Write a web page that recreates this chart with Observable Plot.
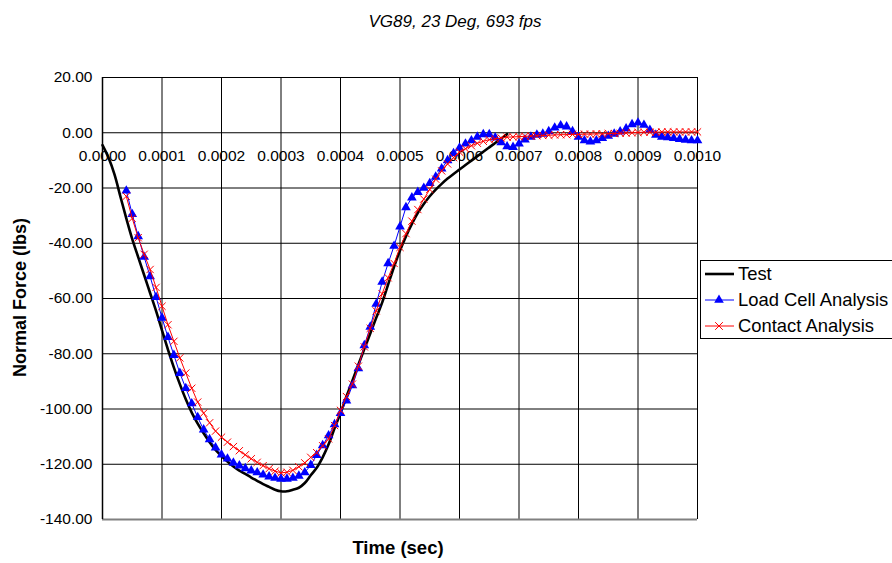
<!DOCTYPE html>
<html><head><meta charset="utf-8">
<script src="https://cdn.jsdelivr.net/npm/d3@7"></script>
<script src="https://cdn.jsdelivr.net/npm/@observablehq/plot@0.6"></script>
<style>
body{margin:0;background:#fff;font-family:"Liberation Sans",Arial,sans-serif;color:#000;}
#wrap{position:relative;width:892px;height:563px;overflow:hidden;}
#chart{position:absolute;left:0;top:0;}
.title{position:absolute;left:0;width:910px;top:12px;text-align:center;font-style:italic;font-size:17px;}
.xlab{position:absolute;left:298px;width:200px;top:537px;text-align:center;font-weight:bold;font-size:18.5px;}
.ylab{position:absolute;left:-80px;width:200px;top:287px;text-align:center;font-weight:bold;font-size:18px;transform:rotate(-90deg);}
.legend{position:absolute;left:700px;top:260px;width:220px;height:77px;border:1px solid #000;background:#fff;}
.legend .row{position:absolute;left:4px;height:20px;display:flex;align-items:center;font-size:18.4px;white-space:nowrap;}
.legend svg{margin-right:4px;}
</style></head><body>
<div id="wrap">
<div id="chart"></div>
<div class="title">VG89, 23 Deg, 693 fps</div>
<div class="xlab">Time (sec)</div>
<div class="ylab">Normal Force (lbs)</div>
<div class="legend" id="legend"></div>
</div>
<script>
// Series names
const seriesNames = ["Test", "Load Cell Analysis", "Contact Analysis"];

// Test curve (seconds, lbs)
const testTime = [0,0.00001,0.00002,0.00003,0.00004,0.00005,0.00006,0.00007,0.00008,0.00009,
0.0001,0.00011,0.00012,0.00013,0.00014,0.00015,0.00016,0.00017,0.00018,0.00019,
0.0002,0.00021,0.00022,0.00023,0.00024,0.00025,0.00026,0.00027,0.00028,0.00029,
0.0003,0.00031,0.00032,0.00033,0.00034,0.00035,0.00036,0.00037,0.00038,0.00039,
0.0004,0.00041,0.00042,0.00043,0.00044,0.00045,0.00046,0.00047,0.00048,0.00049,
0.0005,0.00051,0.00052,0.00053,0.00054,0.00055,0.00056,0.00057,0.00058,0.00059,
0.0006,0.00061,0.00062,0.00063,0.00064,0.00065,0.00066,0.00067,0.00068];
const testForce = [-4.5,-9,-15,-23,-31,-38.5,-45,-51.5,-58,-64.5,
-71.5,-78.5,-85,-91,-96.5,-101.3,-105.3,-108.8,-112,-114.8,
-117,-119,-120.8,-122.3,-123.5,-124.8,-126,-127.2,-128.2,-129.2,
-129.8,-129.8,-129.2,-128.5,-126.8,-124,-121.3,-117.5,-112.8,-107,
-101.5,-95.5,-89.8,-84,-78.3,-72.7,-67,-61.5,-55,-48.5,
-42.6,-37.5,-33,-29,-25.8,-23,-20.6,-18.5,-16.6,-14.9,
-13.3,-11.7,-10.1,-8.5,-6.9,-5.3,-3.7,-2.1,-0.5];

// Analysis sample times (seconds)
const sampleTime = [0.00004,0.00005,0.00006,0.00007,0.00008,0.00009,
0.0001,0.00011,0.00012,0.00013,0.00014,0.00015,0.00016,0.00017,0.00018,0.00019,
0.0002,0.00021,0.00022,0.00023,0.00024,0.00025,0.00026,0.00027,0.00028,0.00029,
0.0003,0.00031,0.00032,0.00033,0.00034,0.00035,0.00036,0.00037,0.00038,0.00039,
0.0004,0.00041,0.00042,0.00043,0.00044,0.00045,0.00046,0.00047,0.00048,0.00049,
0.0005,0.00051,0.00052,0.00053,0.00054,0.00055,0.00056,0.00057,0.00058,0.00059,
0.0006,0.00061,0.00062,0.00063,0.00064,0.00065,0.00066,0.00067,0.00068,0.00069,
0.0007,0.00071,0.00072,0.00073,0.00074,0.00075,0.00076,0.00077,0.00078,0.00079,
0.0008,0.00081,0.00082,0.00083,0.00084,0.00085,0.00086,0.00087,0.00088,0.00089,
0.0009,0.00091,0.00092,0.00093,0.00094,0.00095,0.00096,0.00097,0.00098,0.00099,0.001];

const loadCellForce = [-21,-29.5,-37.5,-45,-52,-59.5,
-67,-74,-80.5,-87,-92.5,-98,-103,-107.5,-111,-114,
-116.5,-118,-119.5,-120.5,-121.5,-122.3,-123,-123.8,-124.5,-125,
-125.3,-125.3,-125,-124.2,-123,-120.3,-116.7,-113.2,-109.6,-105.6,
-101.5,-97,-91.5,-85.3,-77,-70.3,-62,-54,-47.3,-41,
-34,-27,-23.5,-21.5,-20,-18.3,-16,-13,-10,-7.5,
-5.5,-4,-2.8,-1.5,-0.6,-0.6,-1.8,-3.5,-5,-5.2,
-4,-2.5,-1.5,-0.8,-0.4,0.5,1.8,2.6,2.2,0.5,
-1.5,-2.8,-3.2,-2.8,-2,-1.2,-0.4,0.4,1.5,3,
3.6,2.8,1,-0.8,-1.5,-1.7,-2,-2.3,-2.6,-2.8,-2.8];

const contactForce = [-23,-31,-38,-44,-49.5,-56,
-62.8,-69.5,-75.5,-81.5,-87,-92.5,-97.5,-101.5,-105,-108,
-110.2,-112,-113.6,-115.1,-116.6,-118,-119.3,-120.5,-121.6,-122.5,
-123.1,-122.9,-122.2,-120.9,-119.5,-117.5,-115.8,-113.3,-110.8,-106,
-100.5,-95.5,-91,-84.5,-77.5,-70.8,-64.5,-58.3,-52.5,-47.3,
-41.5,-36.5,-32,-27.8,-24,-20.5,-16.8,-13.8,-11.3,-9,
-7,-5.8,-4.7,-3.8,-3.1,-2.5,-2.2,-1.9,-1.6,-1.5,
-1.4,-1.3,-1.2,-1.1,-1,-0.9,-0.8,-0.7,-0.7,-0.6,
-0.6,-0.5,-0.5,-0.4,-0.4,-0.3,-0.3,-0.2,-0.1,0,
0.1,0.2,0.2,0.2,0.3,0.3,0.3,0.3,0.3,0.3,0.3];

// Ticks
const xTicks = [0,0.0001,0.0002,0.0003,0.0004,0.0005,0.0006,0.0007,0.0008,0.0009,0.001];
const yTicks = [20,0,-20,-40,-60,-80,-100,-120,-140];

const test = testTime.map((t,i)=>({t, f: testForce[i]}));
const load = sampleTime.map((t,i)=>({t, f: loadCellForce[i]}));
const contact = sampleTime.map((t,i)=>({t, f: contactForce[i]}));

const chart = Plot.plot({
  width: 892, height: 563,
  marginLeft: 102, marginRight: 195, marginTop: 77, marginBottom: 44,
  style: {fontFamily: "'Liberation Sans', Arial, sans-serif", fontSize: "15.5px", color: "#000", background: "#fff", overflow: "visible"},
  x: {domain: [0, 0.001], axis: null},
  y: {domain: [-140, 20], ticks: yTicks, tickFormat: d => d.toFixed(2), tickSize: 0, tickPadding: 10, label: null},
  marks: [
    Plot.ruleX(xTicks, {x: d => d, stroke: "#000", strokeWidth: 1}),
    Plot.ruleY(yTicks.slice(0, -1), {y: d => d, stroke: "#000", strokeWidth: 1}),
    Plot.ruleY([yTicks[yTicks.length - 1]], {y: d => d, stroke: "#808080", strokeWidth: 2}),
    Plot.ruleX([xTicks[0]], {x: d => d, stroke: "#000", strokeWidth: 1.5}),
    Plot.text(xTicks, {x: d => d, y: () => 0, text: d => d.toFixed(4), dy: 23, fontSize: 15.5, fill: "#000"}),
    Plot.line(test, {x: "t", y: "f", stroke: "#000", strokeWidth: 2.6, curve: "catmull-rom"}),
    Plot.line(load, {x: "t", y: "f", stroke: "#0000ff", strokeWidth: 1}),
    Plot.dot(load, {x: "t", y: "f", symbol: "triangle", fill: "#0000ff", stroke: "none", r: 3.6}),
    Plot.line(contact, {x: "t", y: "f", stroke: "#ff0000", strokeWidth: 1}),
    Plot.dot(contact, {x: "t", y: "f", symbol: "times", stroke: "#ff0000", fill: "none", strokeWidth: 1, r: 3.4})
  ]
});
document.getElementById("chart").appendChild(chart);

// Legend
const legendStyles = [
  {stroke: "#000", width: 2.6, marker: null},
  {stroke: "#0000ff", width: 1, marker: "triangle"},
  {stroke: "#ff0000", width: 1, marker: "times"}
];
const legend = document.getElementById("legend");
const rowTops = [3, 29, 55];
seriesNames.forEach((name, i) => {
  const s = legendStyles[i];
  const row = document.createElement("div");
  row.className = "row";
  row.style.top = rowTops[i] + "px";
  let m = "";
  if (s.marker === "triangle") m = `<path d="${d3.symbol(d3.symbolTriangle, 40)()}" transform="translate(14,10)" fill="#0000ff"/>`;
  if (s.marker === "times") m = `<path d="${d3.symbol(d3.symbolTimes, 40)()}" transform="translate(14,10)" stroke="#ff0000" fill="none"/>`;
  row.innerHTML = `<svg width="29" height="20"><line x1="0" x2="29" y1="10" y2="10" stroke="${s.stroke}" stroke-width="${s.width}"/>${m}</svg><span>${name}</span>`;
  legend.appendChild(row);
});
</script>
</body></html>
